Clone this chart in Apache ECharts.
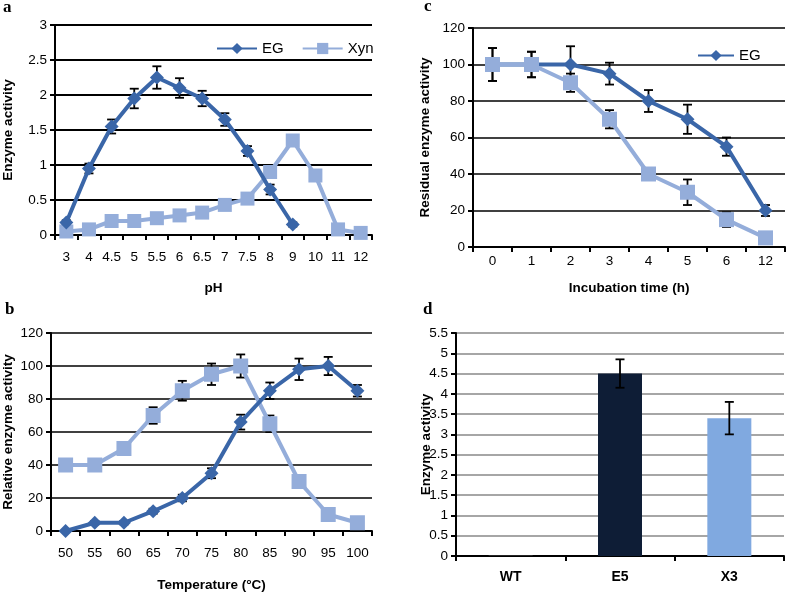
<!DOCTYPE html>
<html><head><meta charset="utf-8">
<script src="https://cdn.jsdelivr.net/npm/echarts@6/dist/echarts.min.js"></script>
<style>html,body{margin:0;padding:0;background:#fff}#c{width:787px;height:593px}</style>
</head><body><div id="c"></div>
<script>
// Panel a: pH
const phCats = ['3','4','4.5','5','5.5','6','6.5','7','7.5','8','9','10','11','12'];
const phEG = [0.18,0.95,1.55,1.95,2.25,2.1,1.95,1.65,1.2,0.65,0.15,null,null,null];
const phEGErr = [0.03,0.07,0.1,0.14,0.16,0.14,0.11,0.09,0.07,0.07,0.03,null,null,null];
const phXyn = [0.05,0.08,0.2,0.2,0.24,0.28,0.32,0.43,0.52,0.9,1.35,0.85,0.08,0.03];
const phXynErr = [0.02,0.02,0.03,0.08,0.03,0.03,0.03,0.03,0.07,0.03,0.03,0.03,0.02,0.02];
// Panel b: temperature
const tCats = ['50','55','60','65','70','75','80','85','90','95','100'];
const tEG = [0,5,5,12,20,35,66,85,98,100,85];
const tEGErr = [0.5,1,1,1.5,2,3,4.5,5,6.5,5.5,3.5];
const tXyn = [40,40,50,70,85,95,100,65,30,10,5];
const tXynErr = [1,1,3,5,6,6.5,7,5,1,1,1];
// Panel c: incubation time
const hCats = ['0','1','2','3','4','5','6','12'];
const hEG = [100,100,100,95,80,70,55,20];
const hEGErr = [9,7,10,6,6,8,5,3];
const hXyn = [100,100,90,70,40,30,15,5];
const hXynErr = [9,7,5,5,3,7,4,1];
// Panel d: strains
const dCats = ['WT','E5','X3'];
const dVals = [0.02,4.5,3.4];
const dErr = [0,0.35,0.4];

const EGC = '#3A66A8', XYC = '#94ADDA';
const FONT = 'Liberation Sans';

function errSeries(xi, yi, vals, errs, z) {
  const data = [];
  vals.forEach((v,i)=>{ if(v!=null && errs[i]) data.push([i, v-errs[i], v+errs[i]]); });
  return {
    type:'custom', xAxisIndex:xi, yAxisIndex:yi, z:z, silent:true,
    data: data,
    renderItem: function(params, api){
      const x = api.value(0);
      const lo = api.coord([x, api.value(1)]);
      const hi = api.coord([x, api.value(2)]);
      const w = 4.5;
      const st = {stroke:'#000', lineWidth:1.8};
      return {type:'group', children:[
        {type:'line', shape:{x1:lo[0],y1:lo[1],x2:hi[0],y2:hi[1]}, style:st},
        {type:'line', shape:{x1:lo[0]-w,y1:lo[1],x2:lo[0]+w,y2:lo[1]}, style:st},
        {type:'line', shape:{x1:hi[0]-w,y1:hi[1],x2:hi[0]+w,y2:hi[1]}, style:st}
      ]};
    }
  };
}

function xAx(gi, cats, name, gap, margin, bold) {
  return {
    type:'category', gridIndex:gi, data:cats, boundaryGap:true,
    name:name, nameLocation:'middle', nameGap:gap,
    nameTextStyle:{fontFamily:FONT, fontWeight:'bold', fontSize:13.5, color:'#000'},
    axisLine:{lineStyle:{color:'#000', width:2}},
    axisTick:{show:true, alignWithLabel:false, length:5, lineStyle:{color:'#000', width:2}},
    axisLabel:{interval:0, fontFamily:FONT, fontSize:bold?14:13.5, color:'#000', margin:margin, fontWeight: bold?'bold':'normal'},
    splitLine:{show:false}
  };
}
function yAx(gi, min, max, interval, name, gap, gridColor, gridW, noMove) {
  return {
    type:'value', gridIndex:gi, min:min, max:max, interval:interval,
    name:name, nameLocation:'middle', nameGap:gap, nameRotate:90,
    nameMoveOverlap: !noMove,
    nameTextStyle:{fontFamily:FONT, fontWeight:'bold', fontSize:13.5, color:'#000'},
    axisLine:{show:true, lineStyle:{color:'#000', width:2}},
    axisTick:{show:true, length:5, lineStyle:{color:'#000', width:2}},
    axisLabel:{fontFamily:FONT, fontSize:13.5, color:'#000', margin:8},
    splitLine:{show:true, lineStyle:{color:gridColor, width:gridW}}
  };
}
function lineS(name, xi, yi, data, color, sym, size, z) {
  return {
    name:name, type:'line', xAxisIndex:xi, yAxisIndex:yi, data:data,
    symbol:sym, symbolSize:size, color:color, z:z,
    lineStyle:{color:color, width:4}, itemStyle:{color:color},
    connectNulls:false
  };
}

const chart = echarts.init(document.getElementById('c'));
chart.setOption({
  animation:false,
  backgroundColor:'#fff',
  grid:[
    {left:51, top:25, width:321, height:210},
    {left:51, top:333, width:321, height:205},
    {left:473, top:28, width:312, height:219},
    {left:456, top:333, width:328, height:223}
  ],
  xAxis:[
    xAx(0, phCats, 'pH', 46, 15),
    xAx(1, tCats, 'Temperature (°C)', 47, 15),
    xAx(2, hCats, 'Incubation time (h)', 34, 7),
    xAx(3, dCats, '', 20, 14, true)
  ],
  yAxis:[
    yAx(0, 0, 3, 0.5, 'Enzyme activity', 40, '#000', 2),
    yAx(1, 0, 120, 20, 'Relative enzyme activity', 36, '#000', 1.5),
    yAx(2, 0, 120, 20, 'Residual enzyme activity', 41, '#000', 1.5),
    yAx(3, 0, 5.5, 0.5, 'Enzyme activity', 23, '#888', 1.5, true)
  ],
  legend:[
    {data:['EG','Xyn'], left:211, top:36, itemWidth:40, itemHeight:14, itemGap:18,
     textStyle:{fontFamily:FONT, fontSize:15, color:'#000'}},
    {data:['EG'], left:692, top:43, itemWidth:36, itemHeight:14,
     textStyle:{fontFamily:FONT, fontSize:15, color:'#000'}}
  ],
  graphic:[
    {type:'text', left:3, top:-1, style:{text:'a', font:'bold 17px "Liberation Serif"', fill:'#000'}},
    {type:'text', left:5, top:301, style:{text:'b', font:'bold 17px "Liberation Serif"', fill:'#000'}},
    {type:'text', left:424, top:-2, style:{text:'c', font:'bold 17px "Liberation Serif"', fill:'#000'}},
    {type:'text', left:423, top:301, style:{text:'d', font:'bold 17px "Liberation Serif"', fill:'#000'}}
  ],
  series:[
    errSeries(0,0,phXyn,phXynErr,1),
    errSeries(0,0,phEG,phEGErr,1),
    lineS('Xyn',0,0,phXyn,XYC,'rect',14,2),
    lineS('EG',0,0,phEG,EGC,'diamond',14,3),

    errSeries(1,1,tXyn,tXynErr,1),
    errSeries(1,1,tEG,tEGErr,1),
    lineS('Xyn',1,1,tXyn,XYC,'rect',15,2),
    lineS('EG',1,1,tEG,EGC,'diamond',14,3),

    errSeries(2,2,hXyn,hXynErr,1),
    errSeries(2,2,hEG,hEGErr,1),
    lineS('EG',2,2,hEG,EGC,'diamond',14,2),
    lineS('Xyn',2,2,hXyn,XYC,'rect',15,3),

    {type:'bar', xAxisIndex:3, yAxisIndex:3, barWidth:44, z:3,
     data:dVals.map((v,i)=>({value:v, itemStyle:{color:['#333','#0E1D36','#80A9E0'][i]}}))},
    errSeries(3,3,dVals,dErr,6)
  ]
});
</script></body></html>
